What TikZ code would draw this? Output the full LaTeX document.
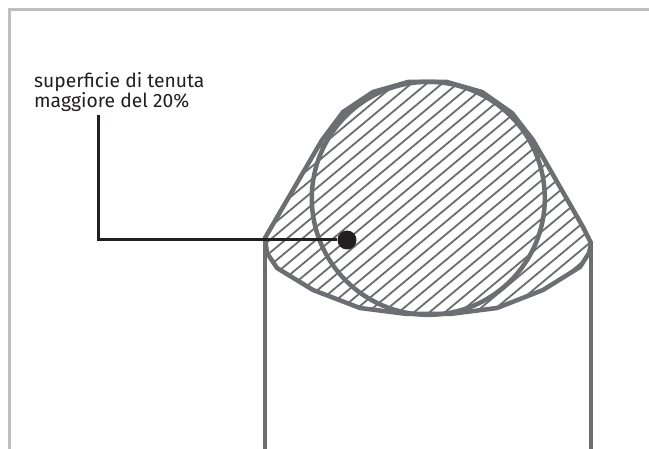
\documentclass[tikz,border=0pt]{standalone}
\usepackage{fontspec}
\setmainfont{Fira Sans}
\definecolor{framegray}{HTML}{BDBFC1}
\definecolor{shapegray}{HTML}{6D6E71}
\definecolor{inkblack}{HTML}{231F20}
\tikzset{
  shapeline/.style={draw=shapegray,line width=4.5pt,line join=round},
  hatchline/.style={draw=shapegray,line width=1.8pt},
  leader/.style={draw=inkblack,line width=3pt},
  labeltext/.style={font=\fontsize{19.3}{20.5}\selectfont,text=inkblack,align=left,inner sep=0pt,anchor=north west},
  dotmark/.style={circle,fill=inkblack,minimum size=19pt,inner sep=0pt}
}
\def\outerpoly{(265,238) -- (322,140) -- (343,112) -- (373,92) -- (408,82) -- (447,82) -- (482,92) -- (512,113) -- (533,140) -- (583,227) -- (591,243) -- (589,253) -- (580,267) -- (543,290) -- (497,308) -- (450,314) -- (407,314) -- (360,308) -- (313,290) -- (277,268) -- (267,253) -- cycle}
\begin{document}
\begin{tikzpicture}[x=1pt,y=-1pt]
\useasboundingbox (0,0) rectangle (649,449);
\fill[white] (0,0) rectangle (649,449);
\draw[framegray,line width=3.5pt] (649,9.5) -- (9.5,9.5) -- (9.5,449);
\begin{scope}
\clip \outerpoly;
\foreach \k in {-12,...,20}{
  \draw[hatchline] ({428-300+\k*15.4},{198+250}) -- ({428+300+\k*15.4},{198-250});
}
\end{scope}
\draw[shapeline] (265,449) -- (265,238);
\draw[shapeline] (591,449) -- (591,243);
\draw[shapeline] \outerpoly;
\draw[shapeline] (428.3,198.3) circle (116.5);
\node[labeltext] (lbl) at (34,72) {superficie di tenuta\\maggiore del 20\%};
\node[dotmark] (dot) at (347,240) {};
\coordinate (legstart) at (98,115);
\draw[leader] (legstart) |- (dot);
\end{tikzpicture}
\end{document}
